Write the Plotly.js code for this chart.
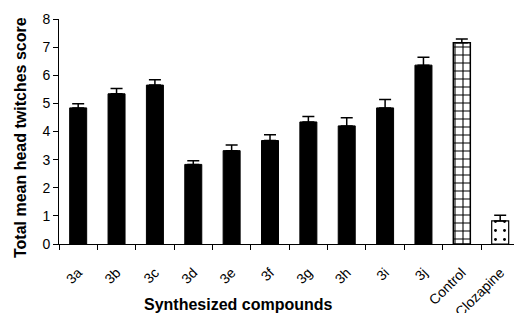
<!DOCTYPE html>
<html>
<head>
<meta charset="utf-8">
<script src="https://cdn.plot.ly/plotly-3.0.1.min.js"></script>
<style>html,body{margin:0;padding:0;background:#fff;}#chart{width:514px;height:313px;}</style>
</head>
<body>
<div id="chart"></div>
<script>
const categories = ["3a","3b","3c","3d","3e","3f","3g","3h","3i","3j","Control","Clozapine"];
const meanScores = [4.84, 5.34, 5.65, 2.83, 3.32, 3.68, 4.34, 4.20, 4.84, 6.36, 7.16, 0.82];
const errorPlus = [0.15, 0.19, 0.19, 0.13, 0.20, 0.20, 0.19, 0.29, 0.30, 0.28, 0.13, 0.20];
const yTicks = [0,1,2,3,4,5,6,7,8];

const FONT = "Liberation Sans, Arial, sans-serif";

const compIdx = categories.map((c,i)=>i).filter(i=>i<10);
const traces = [
  {
    type: "bar",
    x: compIdx.map(i=>categories[i]),
    y: compIdx.map(i=>meanScores[i]),
    marker: {color: "#000", line: {color: "#000", width: 1}},
    error_y: {type: "data", symmetric: false, array: compIdx.map(i=>errorPlus[i]), arrayminus: compIdx.map(()=>0), color: "#000", thickness: 1.5, width: 6},
    hoverinfo: "none"
  },
  {
    type: "bar",
    x: [categories[10]],
    y: [meanScores[10]],
    marker: {color: "#fff", line: {color: "#000", width: 1.5},
      pattern: {shape: "+", fgcolor: "#000", bgcolor: "#fff", size: 8, solidity: 0.25}},
    error_y: {type: "data", symmetric: false, array: [errorPlus[10]], arrayminus: [0], color: "#000", thickness: 1.5, width: 6},
    hoverinfo: "none"
  },
  {
    type: "bar",
    x: [categories[11]],
    y: [meanScores[11]],
    marker: {color: "#fff", line: {color: "#000", width: 1.2},
      pattern: {shape: ".", fgcolor: "#000", bgcolor: "#fff", size: 9, solidity: 0.08}},
    error_y: {type: "data", symmetric: false, array: [errorPlus[11]], arrayminus: [0], color: "#000", thickness: 1.5, width: 6},
    hoverinfo: "none"
  }
];

const layout = {
  width: 514, height: 313,
  margin: {l: 59, r: 0, t: 19, b: 69},
  paper_bgcolor: "#fff", plot_bgcolor: "#fff",
  showlegend: false,
  barmode: "overlay",
  bargap: 0.557,
  font: {family: FONT, color: "#000", size: 14},
  xaxis: {
    type: "category",
    categoryorder: "array", categoryarray: categories,
    range: [-0.5, 11.36],
    showline: true, linecolor: "#000", linewidth: 1,
    ticks: "outside", ticklen: 5, tickcolor: "#000", tickson: "boundaries",
    tickangle: -45,
    ticklabelstandoff: 14,
    tickfont: {family: FONT, size: 14, color: "#000"},
    showgrid: false, zeroline: false
  },
  yaxis: {
    range: [0, 8],
    tickvals: yTicks,
    ticktext: yTicks.map(String),
    showline: true, linecolor: "#000", linewidth: 1,
    ticks: "outside", ticklen: 5, tickcolor: "#000",
    tickfont: {family: FONT, size: 14, color: "#000"},
    showgrid: false, zeroline: false
  },
  annotations: [
    {text: "<b>Synthesized compounds</b>", xref: "paper", yref: "paper", x: 0.394, y: -0.269,
     xanchor: "center", yanchor: "middle", showarrow: false, font: {family: FONT, size: 16, color: "#000"}},
    {text: "<b>Total mean head twitches score</b>", xref: "paper", yref: "paper", x: -0.0857, y: 0.471,
     xanchor: "center", yanchor: "middle", textangle: -90, showarrow: false, font: {family: FONT, size: 16, color: "#000"}}
  ]
};

Plotly.newPlot("chart", traces, layout, {displayModeBar: false, staticPlot: true});
</script>
</body>
</html>
